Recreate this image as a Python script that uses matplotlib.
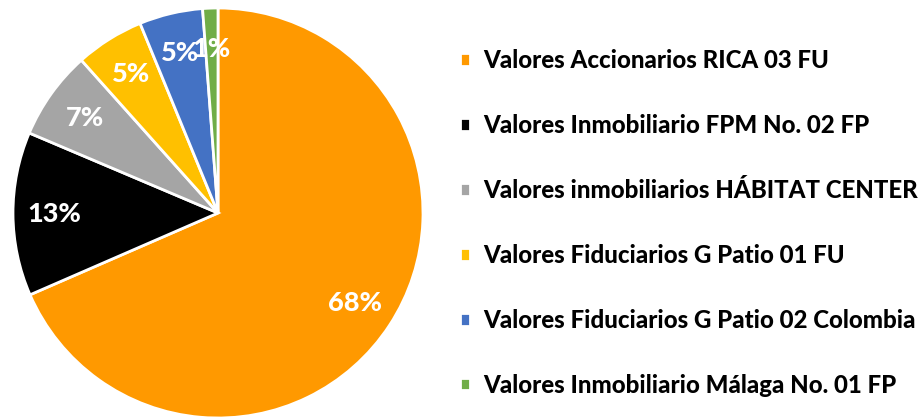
import matplotlib
matplotlib.use("Agg")
import matplotlib.pyplot as plt

# Portfolio share by fund
labels = [
    "Valores Accionarios RICA 03 FU",
    "Valores Inmobiliario FPM No. 02 FP",
    "Valores inmobiliarios HÁBITAT CENTER",
    "Valores Fiduciarios G Patio 01 FU",
    "Valores Fiduciarios G Patio 02 Colombia",
    "Valores Inmobiliario Málaga No. 01 FP",
]
shares = [68.4, 12.9, 7.0, 5.4, 5.0, 1.2]
colors = ["#FF9900", "#000000", "#A5A5A5", "#FFC000", "#4472C4", "#70AD47"]

plt.rcParams["font.family"] = ["Lato", "DejaVu Sans"]

fig = plt.figure(figsize=(9.22, 4.18), dpi=100)
ax = fig.add_axes([13 / 922, 0.0, 410 / 922, 410 / 418])

wedges, texts, autotexts = ax.pie(
    shares,
    colors=colors,
    startangle=90,
    counterclock=False,
    autopct="%1.0f%%",
    pctdistance=0.8,
    wedgeprops=dict(edgecolor="white", linewidth=2),
    textprops=dict(color="white", fontsize=19.5, fontweight="black"),
)
ax.set_xlim(-1, 1)
ax.set_ylim(-1, 1)

fig.legend(
    wedges,
    labels,
    loc="center left",
    bbox_to_anchor=(438 / 922, 195 / 418),
    frameon=False,
    prop=dict(weight="black", size=17.3),
    handlelength=0.45,
    handleheight=0.45,
    handletextpad=0.55,
    labelspacing=1.74,
)

fig.savefig("out.png", dpi=100)
